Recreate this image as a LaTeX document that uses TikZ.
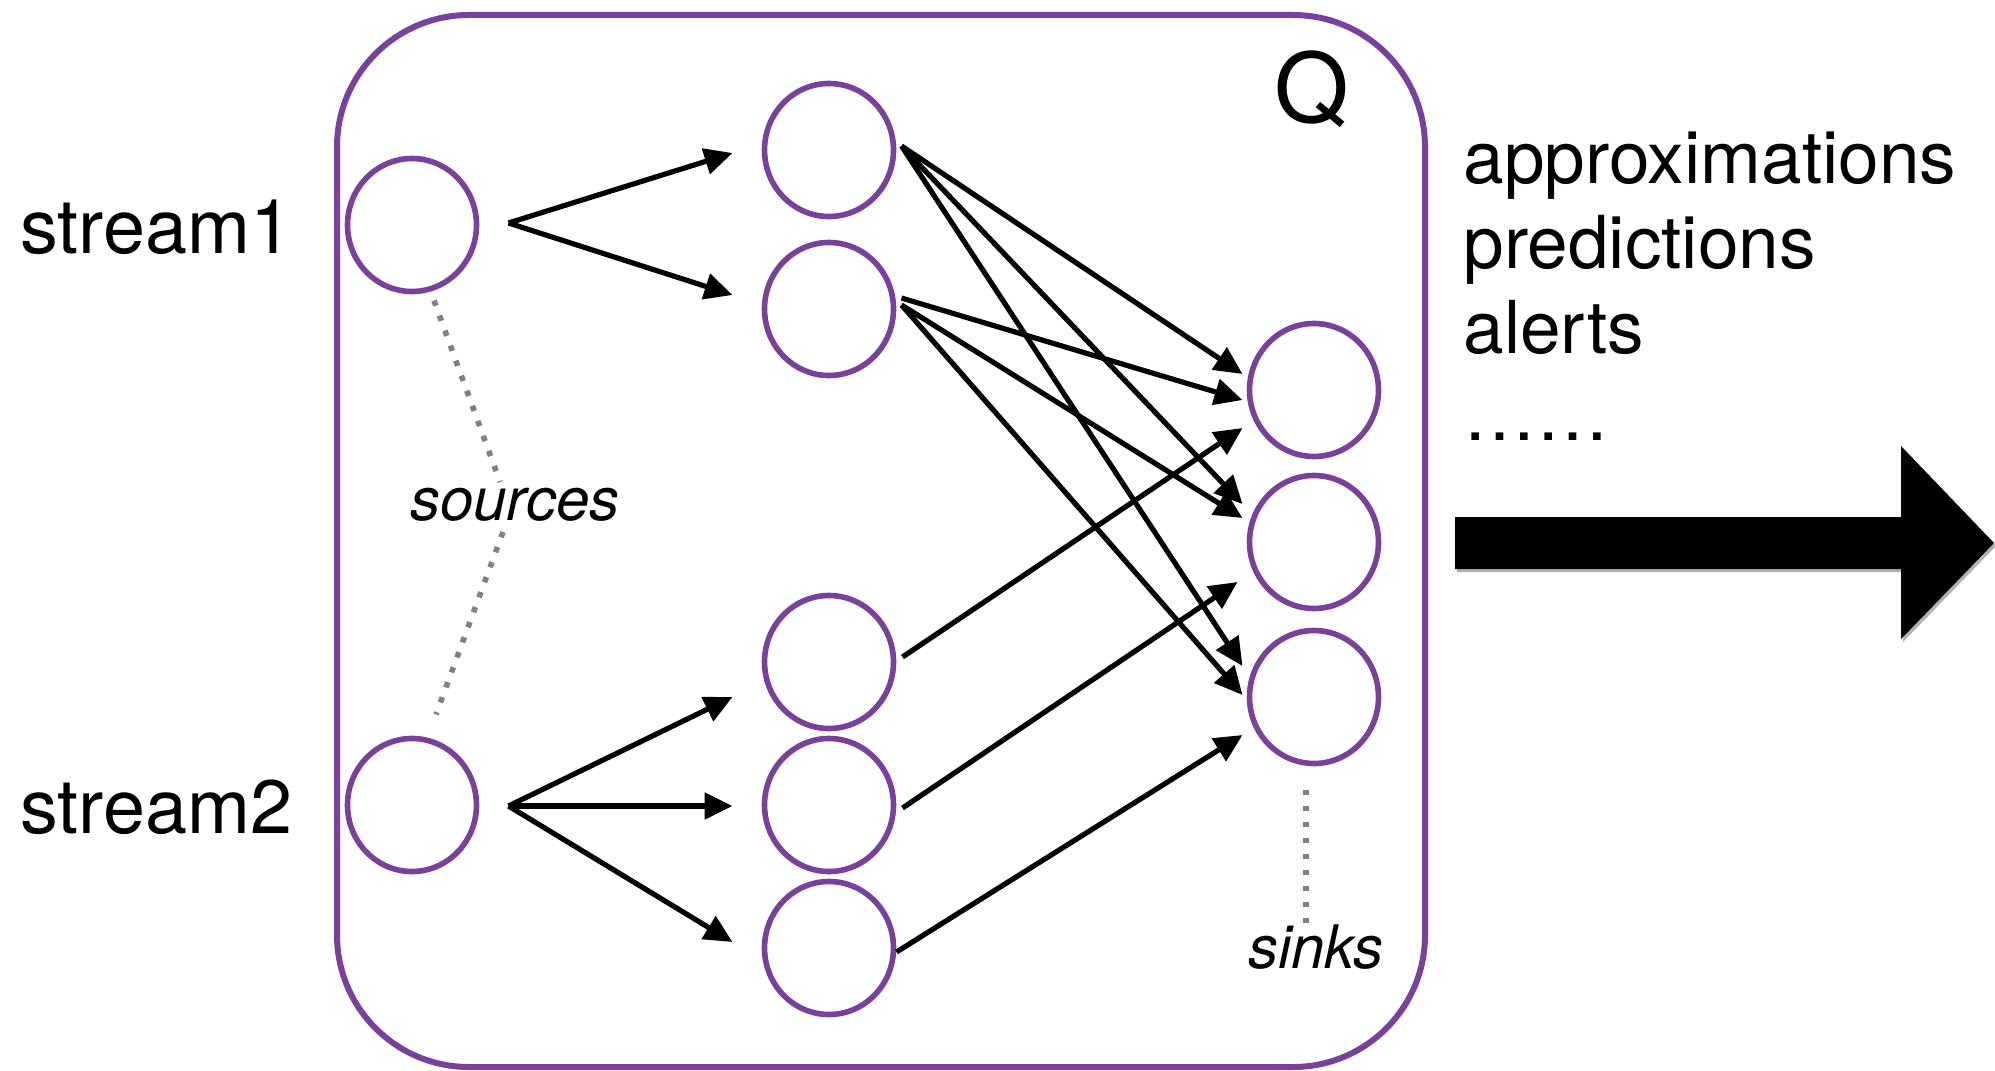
\documentclass[tikz,border=0pt]{standalone}
\usepackage{fontspec}
\setmainfont{TeX Gyre Heros}
\usetikzlibrary{arrows.meta,calc,shapes.geometric}
\definecolor{qpurple}{RGB}{122,64,156}
\definecolor{dotgray}{RGB}{128,128,128}

\begin{document}
\begin{tikzpicture}[x=0.5pt,y=-0.5pt,
  op/.style={ellipse, draw=qpurple, line width=2.8pt, minimum width=64.5pt,
    minimum height=66.5pt, inner sep=0pt, outer sep=0pt},
  edge/.style={line width=2.6pt, line join=round, -{Triangle[length=14pt,width=13pt]}},
  dots/.style={dotgray, line width=2.8pt, dash pattern=on 2.8pt off 5.2pt},
  lab/.style={inner sep=0pt, font=\fontsize{36.5pt}{44pt}\selectfont},
  streamlab/.style={inner sep=0pt, font=\fontsize{37.8pt}{44pt}\selectfont},
  smalllab/.style={inner sep=0pt, font=\fontsize{30pt}{36pt}\selectfont\itshape},
]
\useasboundingbox (0,0) rectangle (1995,1070);

% the operator graph Q
\node[draw=qpurple, line width=3pt, rounded corners=66pt, minimum width=544pt,
  minimum height=526pt, inner sep=0pt, outer sep=0pt] (box) at (881,541) {};
\node[inner sep=0pt, anchor=base, font=\fontsize{48pt}{56pt}\selectfont] (qlabel) at (1312,122) {Q};

% sources
\node[op] (s1) at (412,225) {};
\node[op] (s2) at (412,805) {};
% inner operators
\node[op] (m1) at (829,150) {};
\node[op] (m2) at (829,309) {};
\node[op] (m3) at (829,662) {};
\node[op] (m4) at (829,805) {};
\node[op] (m5) at (829,948) {};
% sinks
\node[op] (k1) at (1314,390) {};
\node[op] (k2) at (1314,542) {};
\node[op] (k3) at (1314,697) {};

% stream labels
\node[streamlab, anchor=base west] (st1) at (20,253) {stream1};
\node[streamlab, anchor=base west] (st2) at (20,833) {stream2};

% italic annotations
\node[smalllab, anchor=base] (srcl) at (515,520) {sources};
\node[smalllab, anchor=base] (snkl) at (1316,968) {sinks};

\draw[dots] ($(s1.south)+(22,9)$) -- ($(srcl.base)+(-15,-38)$);
\draw[dots] ($(srcl.base)+(-12,12)$) -- ($(s2.north)+(24,-24)$);
\draw[dots] ($(k3.south)+(-8,26)$) -- ($(snkl.base)+(-10,-35)$);

% sources to inner operators
\draw[edge] ($(s1.east)+(32,-2)$) -- ($(m1.west)+(-32,3)$);
\draw[edge] ($(s1.east)+(32,-2)$) -- ($(m2.west)+(-32,-14)$);
\draw[edge] ($(s2.east)+(32,1)$) -- ($(m3.west)+(-32,35)$);
\draw[edge] ($(s2.east)+(32,1)$) -- ($(m4.west)+(-32,1)$);
\draw[edge] ($(s2.east)+(32,1)$) -- ($(m5.west)+(-32,-6)$);

% inner operators to sinks
\draw[edge] ($(m1.east)+(8,-4)$) -- ($(k1.west)+(-7,-16)$);
\draw[edge] ($(m1.east)+(8,-4)$) -- ($(k2.west)+(-7,-38)$);
\draw[edge] ($(m1.east)+(8,-4)$) -- ($(k3.west)+(-7,-31)$);
\draw[edge] ($(m2.east)+(8,-11)$) -- ($(k1.west)+(-7,10)$);
\draw[edge] ($(m2.east)+(8,-4)$) -- ($(k2.west)+(-7,-24)$);
\draw[edge] ($(m2.east)+(8,-4)$) -- ($(k3.west)+(-7,-2)$);
\draw[edge] ($(m3.east)+(9,-5)$) -- ($(k1.west)+(-7,38)$);
\draw[edge] ($(m4.east)+(9,3)$) -- ($(k2.west)+(-12,40)$);
\draw[edge] ($(m5.east)+(3,4)$) -- ($(k3.west)+(-7,38)$);

% outputs
\node[lab, anchor=base west] (o1) at (1463,183) {approximations};
\node[lab, anchor=base west] (o2) at (1463,268) {predictions};
\node[lab, anchor=base west] (o3) at (1463,353) {alerts};
\node[lab, anchor=base west] (o4) at (1463,440) {……};

% big output arrow
\fill[black!30] (1457,520) -- (1903,520) -- (1903,449) -- (1996,546) -- (1903,642)
  -- (1903,572) -- (1457,572) -- cycle;
\fill (1455,517) -- (1901,517) -- (1901,446) -- (1994,543) -- (1901,639)
  -- (1901,569) -- (1455,569) -- cycle;
\end{tikzpicture}
\end{document}
